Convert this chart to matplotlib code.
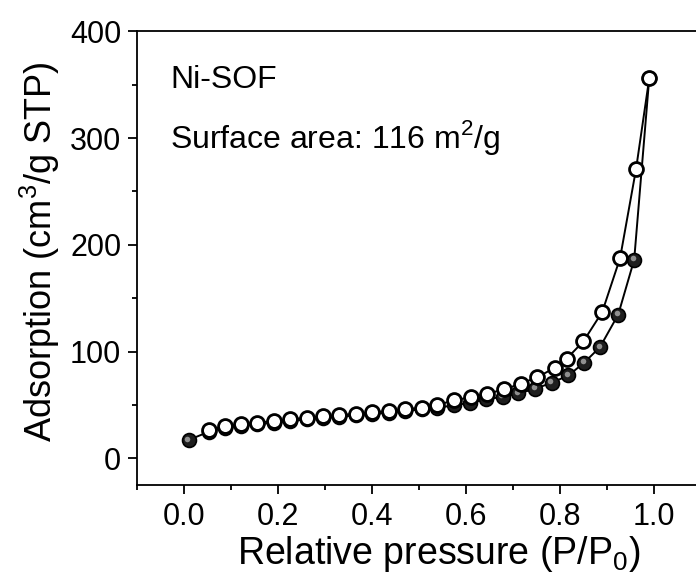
import matplotlib
matplotlib.use("Agg")
import matplotlib.pyplot as plt
import matplotlib.transforms as mtransforms
from matplotlib.ticker import MultipleLocator

plt.rcParams['font.family'] = ['Liberation Sans', 'DejaVu Sans']
plt.rcParams['mathtext.fontset'] = 'custom'
plt.rcParams['mathtext.rm'] = 'Liberation Sans'

# adsorption branch (filled)
p_ads = [0.009, 0.052, 0.086, 0.120, 0.155, 0.190, 0.226, 0.261, 0.295, 0.330,
         0.365, 0.399, 0.435, 0.470, 0.506, 0.539, 0.574, 0.609, 0.643, 0.678,
         0.711, 0.747, 0.782, 0.818, 0.851, 0.885, 0.924, 0.958, 0.990]
v_ads = [17.1, 24.8, 28.7, 30.3, 31.9, 33.4, 34.9, 36.5, 37.8, 38.8,
         40.3, 41.5, 42.7, 44.3, 45.9, 47.5, 49.5, 52.1, 55.1, 57.7,
         60.7, 65.1, 70.7, 77.6, 89.4, 104.0, 134.6, 186.0, 355.8]

# desorption branch (open)
p_des = [0.052, 0.086, 0.120, 0.155, 0.190, 0.226, 0.261, 0.295, 0.330, 0.365,
         0.399, 0.435, 0.470, 0.506, 0.539, 0.574, 0.610, 0.645, 0.681, 0.716,
         0.752, 0.789, 0.814, 0.850, 0.890, 0.928, 0.962, 0.990]
v_des = [26.2, 30.2, 31.8, 33.4, 34.9, 36.4, 38.0, 39.3, 40.2, 41.8,
         43.0, 44.2, 45.8, 47.4, 50.0, 54.2, 57.3, 60.5, 64.5, 69.8,
         76.0, 84.8, 93.2, 109.6, 137.1, 187.6, 271.0, 355.8]

sample = "Ni-SOF"
area_text = "Surface area: 116 m$^2$/g"

fig = plt.figure(figsize=(6.96, 5.79), dpi=100)
ax = fig.add_axes([0.1973, 0.1624, 0.8097, 0.7836])

ax.plot(p_ads, v_ads, '-o', color='black', lw=1.4, ms=10,
        mfc='#1e1e1e', mec='black', mew=1.2, zorder=2)
# small grey highlight on the filled spheres
hl = mtransforms.offset_copy(ax.transData, fig=fig, x=-1.0, y=1.0, units='points')
ax.plot(p_ads, v_ads, 'o', color='#8f8f8f', ms=4, mew=0, transform=hl, zorder=3)

ax.plot(p_des, v_des, '-o', color='black', lw=1.4, ms=10,
        mfc='white', mec='black', mew=2.0, zorder=4)

ax.set_xlim(-0.1, 1.1)
ax.set_ylim(-25, 400)
ax.xaxis.set_major_locator(MultipleLocator(0.2))
ax.xaxis.set_minor_locator(MultipleLocator(0.1))
ax.yaxis.set_major_locator(MultipleLocator(100))
ax.yaxis.set_minor_locator(MultipleLocator(50))
ax.xaxis.set_major_formatter(plt.FuncFormatter(lambda v, _: f"{v:.1f}"))

for s in ax.spines.values():
    s.set_linewidth(1.3)
ax.tick_params(which='major', direction='out', length=6.5, width=1.3, labelsize=22, pad=6)
ax.tick_params(axis='y', which='major', pad=5)
ax.tick_params(which='minor', direction='out', length=3.5, width=1.3)

ax.set_xlabel("Relative pressure (P/P$_0$)", fontsize=27)
ax.set_ylabel("Adsorption (cm$^3$/g STP)", fontsize=26)
ax.xaxis.set_label_coords(0.535, -0.108)
ax.yaxis.set_label_coords(-0.134, 0.515)

ax.text(0.058, 0.874, sample, transform=ax.transAxes, fontsize=23, va='baseline')
ax.text(0.058, 0.743, area_text, transform=ax.transAxes, fontsize=23, va='baseline')

fig.savefig("out.png", dpi=100)
